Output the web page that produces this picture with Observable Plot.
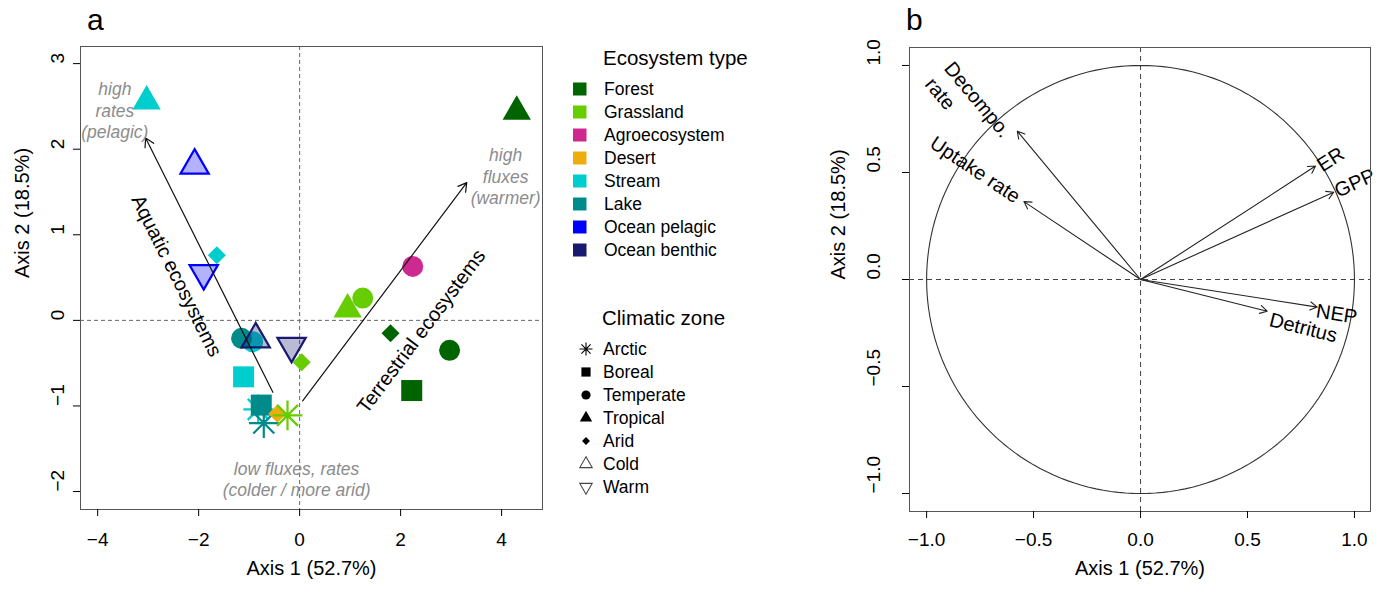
<!DOCTYPE html>
<html>
<head>
<meta charset="utf-8">
<script src="https://cdn.jsdelivr.net/npm/d3@7"></script>
<script src="https://cdn.jsdelivr.net/npm/@observablehq/plot@0.6"></script>
<style>
  body { margin: 0; background: #fff; }
  #wrap { position: relative; width: 1378px; height: 589px; overflow: hidden; background: #fff; }
  #wrap > svg { position: absolute; top: 0; }
</style>
</head>
<body>
<div id="wrap"></div>
<script>
// ---------- Data ----------
const ecosystems = ["Forest", "Grassland", "Agroecosystem", "Desert", "Stream", "Lake", "Ocean pelagic", "Ocean benthic"];
const ecoColors = ["#006400", "#66CD00", "#CD2990", "#EEAD0E", "#00CDCD", "#008B8B", "#0000FF", "#191970"];
const zones = ["Arctic", "Boreal", "Temperate", "Tropical", "Arid", "Cold", "Warm"];

// Site scores on the first two PCA axes (drawing order)
const siteEco = ["Stream", "Forest", "Ocean pelagic", "Stream", "Ocean pelagic", "Agroecosystem", "Grassland", "Grassland",
  "Forest", "Forest", "Forest", "Stream", "Lake", "Ocean benthic", "Ocean benthic", "Grassland",
  "Stream", "Stream", "Lake", "Lake", "Desert", "Grassland"];
const siteZone = ["Tropical", "Tropical", "Cold", "Arid", "Warm", "Temperate", "Temperate", "Tropical",
  "Arid", "Temperate", "Boreal", "Temperate", "Temperate", "Cold", "Warm", "Arid",
  "Boreal", "Arctic", "Arctic", "Boreal", "Arid", "Arctic"];
const siteAxis1 = [-3.03, 4.30, -2.08, -1.64, -1.90, 2.24, 1.25, 0.95, 1.80, 2.97, 2.22, -0.93, -1.15, -0.87, -0.16, 0.04,
  -1.11, -0.82, -0.71, -0.76, -0.44, -0.24];
const siteAxis2 = [2.56, 2.44, 1.81, 0.76, 0.55, 0.63, 0.26, 0.13, -0.15, -0.35, -0.82, -0.25, -0.21, -0.22, -0.30, -0.49,
  -0.66, -1.04, -1.20, -0.99, -1.09, -1.11];

// Gradient arrows drawn over the site scores
const trendNames = ["Aquatic ecosystems", "Terrestrial ecosystems"];
const trendFromAxis1 = [-0.53, 0.06];
const trendFromAxis2 = [-0.84, -0.94];
const trendToAxis1 = [-3.05, 3.31];
const trendToAxis2 = [2.13, 1.61];
const trendLabelAxis1 = [-2.44, 2.41];
const trendLabelAxis2 = [0.52, -0.13];

// Grey annotations
const noteText = ["high\nrates\n(pelagic)", "high\nfluxes\n(warmer)", "low fluxes, rates\n(colder / more arid)"];
const noteAxis1 = [-3.66, 4.08, -0.06];
const noteAxis2 = [2.46, 1.69, -1.85];

// Variable loadings (correlation circle)
const varNames = ["Decompo.\nrate", "Uptake rate", "ER", "GPP", "NEP", "Detritus"];
const varAxis1 = [-0.576, -0.545, 0.818, 0.903, 0.826, 0.592];
const varAxis2 = [0.693, 0.364, 0.530, 0.408, -0.129, -0.148];
const varLabelAxis1 = [-0.938, -0.970, 0.830, 0.909, 0.823, 0.606];
const varLabelAxis2 = [0.971, 0.653, 0.531, 0.416, -0.140, -0.180];

// Axis ticks
const xTicksA = [-4, -2, 0, 2, 4];
const yTicksA = [-2, -1, 0, 1, 2, 3];
const xTicksB = [-1, -0.5, 0, 0.5, 1];
const yTicksB = [-1, -0.5, 0, 0.5, 1];

// ---------- Helpers ----------
const FONT = '"Liberation Sans", Arial, Helvetica, sans-serif';
const minus = s => s.replace("-", "\u2212");
const fmtInt = d => minus(String(d));
const fmt1 = d => minus(d.toFixed(1));
const colorOf = eco => ecoColors[ecosystems.indexOf(eco)];
const isOcean = eco => eco.startsWith("Ocean");

// Point symbols in the proportions of R's plotting characters
const unit = s => Math.sqrt(s / Math.PI);
const symAsterisk = {draw(c, s) {
  const r = unit(s), q = r * Math.SQRT2;
  c.moveTo(-r, -r); c.lineTo(r, r); c.moveTo(-r, r); c.lineTo(r, -r);
  c.moveTo(-q, 0); c.lineTo(q, 0); c.moveTo(0, -q); c.lineTo(0, q);
}};
const symSquare = {draw(c, s) { const h = unit(s); c.moveTo(-h, -h); c.lineTo(h, -h); c.lineTo(h, h); c.lineTo(-h, h); c.closePath(); }};
const symCircle = {draw(c, s) { const r = unit(s); c.moveTo(r, 0); c.arc(0, 0, r, 0, 2 * Math.PI); }};
const symUp = {draw(c, s) { const r = unit(s); c.moveTo(0, -1.555 * r); c.lineTo(1.347 * r, 0.778 * r); c.lineTo(-1.347 * r, 0.778 * r); c.closePath(); }};
const symDown = {draw(c, s) { const r = unit(s); c.moveTo(0, 1.555 * r); c.lineTo(1.347 * r, -0.778 * r); c.lineTo(-1.347 * r, -0.778 * r); c.closePath(); }};
const symDiamond = {draw(c, s) { const h = 0.86 * unit(s); c.moveTo(0, -h); c.lineTo(h, 0); c.lineTo(0, h); c.lineTo(-h, 0); c.closePath(); }};
const zoneSymbols = [symAsterisk, symSquare, symCircle, symUp, symDiamond, symUp, symDown];

// Screen angle (clockwise degrees) of a data-space direction, kept readable
function readableAngle(dx, dy, kx, ky) {
  let a = Math.atan2(-dy * ky, dx * kx) * 180 / Math.PI;
  if (a > 90) a -= 180;
  if (a < -90) a += 180;
  return a;
}

const wrap = document.getElementById("wrap");
const H = 589;

// ---------- Panel a: site scores ----------
const W_A = 560;
const mA = {top: 46, right: 18, bottom: 80, left: 80};
const xDomA = [-4.34, 4.81], yDomA = [-2.21, 3.20];
const kxA = (W_A - mA.left - mA.right) / (xDomA[1] - xDomA[0]);
const kyA = (H - mA.top - mA.bottom) / (yDomA[1] - yDomA[0]);

const sites = siteEco.map((eco, i) => ({eco, zone: siteZone[i], a1: siteAxis1[i], a2: siteAxis2[i]}));
const trends = trendNames.map((name, i) => ({
  name, x1: trendFromAxis1[i], y1: trendFromAxis2[i], x2: trendToAxis1[i], y2: trendToAxis2[i],
  lx: trendLabelAxis1[i], ly: trendLabelAxis2[i],
  rot: readableAngle(trendToAxis1[i] - trendFromAxis1[i], trendToAxis2[i] - trendFromAxis2[i], kxA, kyA)
}));
const notes = noteText.map((t, i) => ({t, x: noteAxis1[i], y: noteAxis2[i]}));

const panelA = Plot.plot({
  width: W_A, height: H,
  marginTop: mA.top, marginRight: mA.right, marginBottom: mA.bottom, marginLeft: mA.left,
  x: {domain: xDomA},
  y: {domain: yDomA},
  symbol: {domain: zones, range: zoneSymbols},
  style: {fontFamily: FONT, fontSize: "19px", color: "#000", background: "transparent", overflow: "visible"},
  marks: [
    Plot.ruleX([0], {stroke: "#666", strokeDasharray: "4,3"}),
    Plot.ruleY([0], {stroke: "#666", strokeDasharray: "4,3"}),
    Plot.dot(sites, {
      x: "a1", y: "a2", symbol: "zone", r: 10.5, strokeWidth: 2.2,
      fill: d => d.zone === "Arctic" ? "none"
        : isOcean(d.eco) ? d3.color(colorOf(d.eco)).copy({opacity: 0.3}).formatRgb()
        : colorOf(d.eco),
      stroke: d => (d.zone === "Arctic" || isOcean(d.eco)) ? colorOf(d.eco) : "none"
    }),
    Plot.arrow(trends, {x1: "x1", y1: "y1", x2: "x2", y2: "y2", stroke: "#111", strokeWidth: 1.2, headLength: 12, headAngle: 60}),
    Plot.text(trends, {x: "lx", y: "ly", text: "name", rotate: "rot", fontSize: 20, fill: "#000"}),
    Plot.text(notes, {x: "x", y: "y", text: "t", fontSize: 17.5, fontStyle: "italic", fill: "#8c8c8c", lineHeight: 1.23}),
    Plot.frame({stroke: "#555"}),
    Plot.axisX({ticks: xTicksA, tickSize: 7, tickPadding: 16, tickFormat: fmtInt, label: null}),
    Plot.axisY({ticks: yTicksA, tickSize: 7, tickFormat: () => "", label: null}),
    Plot.text(yTicksA, {y: d => d, text: fmtInt, frameAnchor: "left", dx: -23, rotate: -90}),
    Plot.text(["Axis 1 (52.7%)"], {frameAnchor: "bottom", dy: 65, fontSize: 20}),
    Plot.text(["Axis 2 (18.5%)"], {frameAnchor: "left", dx: -58, rotate: -90, fontSize: 20})
  ]
});
panelA.style.left = "0px";
wrap.appendChild(panelA);

// ---------- Panel b: correlation circle ----------
const W_B = 558;
const mB = {top: 47, right: 8, bottom: 78, left: 89};
const xDomB = [-1.08, 1.075], yDomB = [-1.084, 1.084];
const kxB = (W_B - mB.left - mB.right) / (xDomB[1] - xDomB[0]);
const kyB = (H - mB.top - mB.bottom) / (yDomB[1] - yDomB[0]);

const vars = varNames.map((name, i) => ({
  name, a1: varAxis1[i], a2: varAxis2[i], lx: varLabelAxis1[i], ly: varLabelAxis2[i],
  rot: readableAngle(varAxis1[i], varAxis2[i], kxB, kyB)
}));
// unit circle outline
const circle = d3.range(0, 361, 2).map(deg => ({cx: Math.cos(deg * Math.PI / 180), cy: Math.sin(deg * Math.PI / 180)}));

const panelB = Plot.plot({
  width: W_B, height: H,
  marginTop: mB.top, marginRight: mB.right, marginBottom: mB.bottom, marginLeft: mB.left,
  x: {domain: xDomB},
  y: {domain: yDomB},
  style: {fontFamily: FONT, fontSize: "19px", color: "#000", background: "transparent", overflow: "visible"},
  marks: [
    Plot.ruleX([0], {stroke: "#444", strokeDasharray: "5,4"}),
    Plot.ruleY([0], {stroke: "#444", strokeDasharray: "5,4"}),
    Plot.line(circle, {x: "cx", y: "cy", stroke: "#333", strokeWidth: 1.1}),
    Plot.arrow(vars, {x1: 0, y1: 0, x2: "a1", y2: "a2", stroke: "#222", strokeWidth: 1.1, headLength: 11, headAngle: 60}),
    Plot.text(vars, {x: "lx", y: "ly", text: "name", rotate: "rot", textAnchor: "start", fontSize: 20, lineHeight: 1.25}),
    Plot.frame({stroke: "#555"}),
    Plot.axisX({ticks: xTicksB, tickSize: 7, tickPadding: 14, tickFormat: fmt1, label: null}),
    Plot.axisY({ticks: yTicksB, tickSize: 7, tickFormat: () => "", label: null}),
    Plot.text(yTicksB, {y: d => d, text: fmt1, frameAnchor: "left", dx: -36, rotate: -90}),
    Plot.text(["Axis 1 (52.7%)"], {frameAnchor: "bottom", dy: 63, fontSize: 20}),
    Plot.text(["Axis 2 (18.5%)"], {frameAnchor: "left", dx: -71, rotate: -90, fontSize: 20})
  ]
});
panelB.style.left = "820px";
wrap.appendChild(panelB);

// ---------- Legends and panel letters ----------
const leg = d3.create("svg")
  .attr("width", 1378).attr("height", H)
  .style("left", "0px").style("pointer-events", "none")
  .attr("font-family", FONT);

leg.append("text").attr("x", 87).attr("y", 30).attr("font-size", 30).text("a");
leg.append("text").attr("x", 906).attr("y", 30).attr("font-size", 30).text("b");

leg.append("text").attr("x", 603).attr("y", 58).attr("dy", "0.35em").attr("font-size", 20.5).text("Ecosystem type");
ecosystems.forEach((eco, i) => {
  const cy = 89 + 23 * i;
  leg.append("rect").attr("x", 573).attr("y", cy - 6.5).attr("width", 13.5).attr("height", 13).attr("fill", ecoColors[i]);
  leg.append("text").attr("x", 604).attr("y", cy).attr("dy", "0.35em").attr("font-size", 17.5).text(eco);
});

leg.append("text").attr("x", 602).attr("y", 318).attr("dy", "0.35em").attr("font-size", 20.5).text("Climatic zone");
zones.forEach((z, i) => {
  const cy = 349 + 23 * i;
  const open = z === "Cold" || z === "Warm", star = z === "Arctic";
  leg.append("path")
    .attr("transform", `translate(586,${cy})`)
    .attr("d", d3.symbol(zoneSymbols[i], Math.PI * 4.6 * 4.6)())
    .attr("fill", open || star ? "none" : "#000")
    .attr("stroke", star ? "#000" : open ? "#444" : "none")
    .attr("stroke-width", 1.1);
  leg.append("text").attr("x", 603).attr("y", cy).attr("dy", "0.35em").attr("font-size", 17.5).text(z);
});
wrap.appendChild(leg.node());
</script>
</body>
</html>
